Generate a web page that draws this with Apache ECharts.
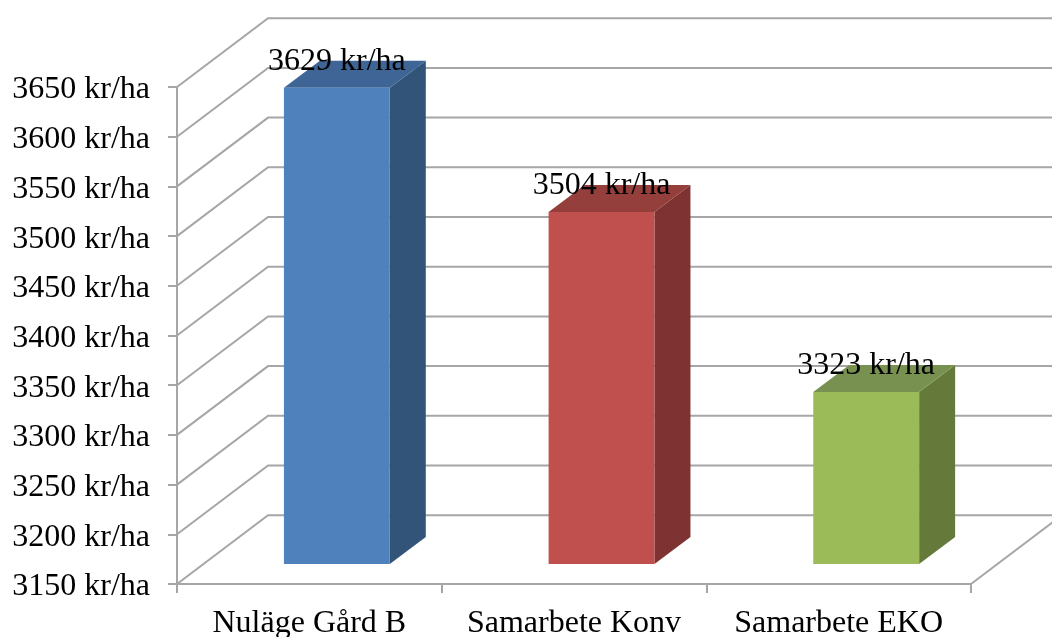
<!DOCTYPE html>
<html>
<head>
<meta charset="utf-8">
<style>html,body{margin:0;padding:0;background:#fff}#chart{width:1052px;height:637px}</style>
<script src="https://cdn.jsdelivr.net/npm/echarts@6/dist/echarts.min.js"></script>
</head>
<body>
<div id="chart"></div>
<script>
const categories = ['Nuläge Gård B', 'Samarbete Konv', 'Samarbete EKO'];
const values = [3629, 3504, 3323];
const yTicks = [3150, 3200, 3250, 3300, 3350, 3400, 3450, 3500, 3550, 3600, 3650];
const frontColors = ['#4f81bd', '#c0504d', '#9bbb59'];
const topColors = ['#3e6596', '#953f3d', '#799150'];
const sideColors = ['#335479', '#7e3231', '#65793a'];

const UNIT = ' kr/ha';
const SERIF = '"Liberation Serif", "Times New Roman", serif';
const FONT_SIZE = 32;
const LINE_COLOR = '#a6a6a6';

// Oblique projection of the chart's depth, as fractions of one category band.
const WALL_DEPTH_X = 0.344;
const WALL_DEPTH_Y = 0.26;
const BAR_WIDTH = 0.4;
const BAR_OFFSET_X = 0.104;
const BAR_OFFSET_Y = 0.076;
const BAR_DEPTH_X = 0.136;
const BAR_DEPTH_Y = 0.102;

// One wall line per tick: runs back along the side wall, then across the rear wall.
function renderWallLine(params, api) {
  const band = api.size([1, 0])[0];
  const p = api.coord([0, api.value(1)]);
  const x0 = p[0] - band / 2;
  const y0 = p[1];
  const bx = x0 + band * WALL_DEPTH_X;
  const by = y0 - band * WALL_DEPTH_Y;
  return {
    type: 'polyline',
    shape: { points: [[x0, y0], [bx, by], [bx + band * categories.length, by]] },
    style: { fill: null, stroke: LINE_COLOR, lineWidth: 2 },
    silent: true
  };
}

// Right-hand floor edge, running from the end of the category axis to the rear wall.
function renderFloorEdge(params, api) {
  const band = api.size([1, 0])[0];
  const p = api.coord([categories.length - 1, api.value(1)]);
  const x0 = p[0] + band / 2;
  return {
    type: 'line',
    shape: { x1: x0, y1: p[1], x2: x0 + band * WALL_DEPTH_X, y2: p[1] - band * WALL_DEPTH_Y },
    style: { stroke: LINE_COLOR, lineWidth: 2 },
    silent: true
  };
}

// A box standing on the floor: side face, top face, front face, value label.
function renderBar(params, api) {
  const i = params.dataIndex;
  const band = api.size([1, 0])[0];
  const top = api.coord([api.value(0), api.value(1)]);
  const base = api.coord([api.value(0), yTicks[0]]);
  const w = band * BAR_WIDTH;
  const dx = band * BAR_DEPTH_X;
  const dy = band * BAR_DEPTH_Y;
  const left = top[0] - w / 2 + band * BAR_OFFSET_X;
  const right = left + w;
  const yTop = top[1] - band * BAR_OFFSET_Y;
  const yBase = base[1] - band * BAR_OFFSET_Y;
  return {
    type: 'group',
    children: [
      {
        type: 'polygon',
        shape: { points: [[right, yTop], [right + dx, yTop - dy], [right + dx, yBase - dy], [right, yBase]] },
        style: { fill: sideColors[i] }
      },
      {
        type: 'polygon',
        shape: { points: [[left, yTop], [left + dx, yTop - dy], [right + dx, yTop - dy], [right, yTop]] },
        style: { fill: topColors[i] }
      },
      {
        type: 'rect',
        shape: { x: left, y: yTop, width: w, height: yBase - yTop },
        style: { fill: frontColors[i] }
      },
      {
        type: 'text',
        z2: 10,
        style: {
          x: left + w / 2,
          y: yTop - 26,
          text: api.value(1) + UNIT,
          align: 'center',
          verticalAlign: 'middle',
          fill: '#000',
          font: FONT_SIZE + 'px ' + SERIF
        }
      }
    ]
  };
}

const chart = echarts.init(document.getElementById('chart'), null, { renderer: 'canvas' });
chart.setOption({
  animation: false,
  backgroundColor: '#fff',
  grid: { left: 177, right: 81, top: 87, bottom: 53, outerBoundsMode: 'none' },
  xAxis: {
    type: 'category',
    data: categories,
    axisLine: { lineStyle: { color: LINE_COLOR, width: 2 } },
    axisTick: { show: true, interval: 0, length: 9, lineStyle: { color: LINE_COLOR, width: 2 } },
    axisLabel: { color: '#000', fontFamily: SERIF, fontSize: FONT_SIZE, margin: 24, interval: 0 },
    splitLine: { show: false }
  },
  yAxis: {
    type: 'value',
    min: yTicks[0],
    max: yTicks[yTicks.length - 1],
    interval: yTicks[1] - yTicks[0],
    axisLine: { show: true, lineStyle: { color: LINE_COLOR, width: 2 } },
    axisTick: { show: true, length: 9, lineStyle: { color: LINE_COLOR, width: 2 } },
    axisLabel: {
      color: '#000',
      fontFamily: SERIF,
      fontSize: FONT_SIZE,
      margin: 27,
      verticalAlign: 'top',
      lineHeight: 6,
      formatter: v => v + UNIT
    },
    splitLine: { show: false }
  },
  series: [
    {
      type: 'custom',
      name: 'Väggar',
      z: 1,
      silent: true,
      renderItem: renderWallLine,
      data: yTicks.map(v => [0, v])
    },
    {
      type: 'custom',
      name: 'Golv',
      z: 1,
      silent: true,
      renderItem: renderFloorEdge,
      data: [[categories.length - 1, yTicks[0]]]
    },
    {
      type: 'custom',
      name: 'kr/ha',
      z: 3,
      renderItem: renderBar,
      encode: { x: 0, y: 1 },
      data: values.map((v, i) => [i, v])
    }
  ]
});
</script>
</body>
</html>
